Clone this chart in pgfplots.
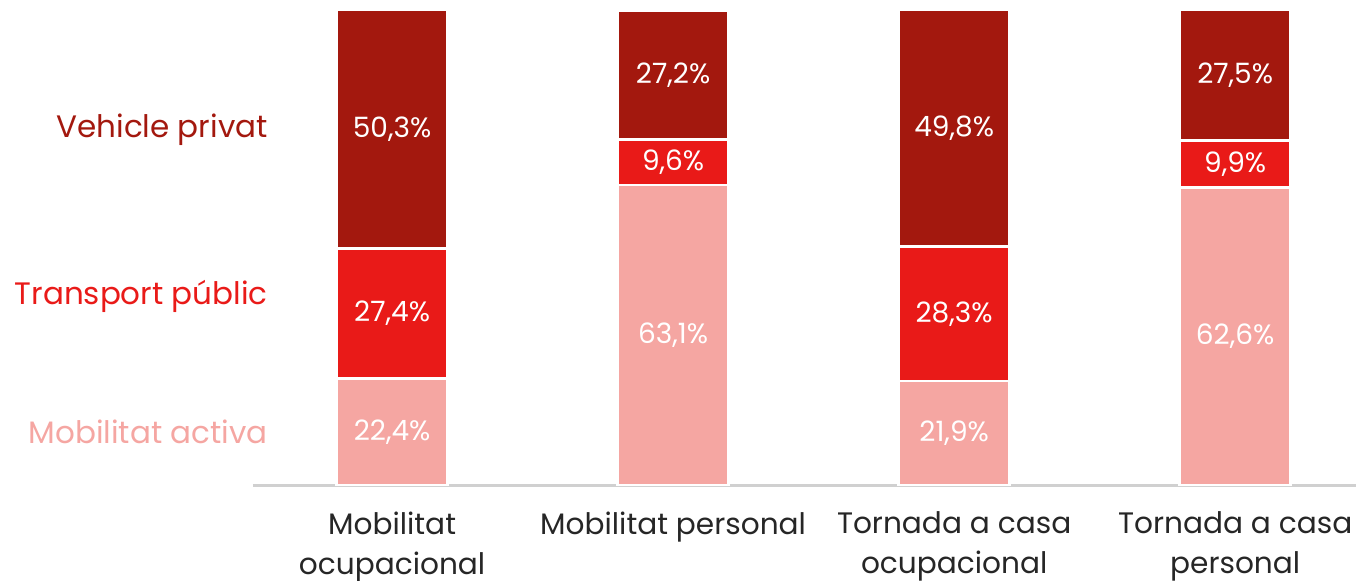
\documentclass[border=0pt]{standalone}
\usepackage{pgfplots}
\pgfplotsset{compat=1.18}
\usepackage{fontspec}
\setmainfont{Poppins}
\definecolor{vehicle}{HTML}{A3180E}
\definecolor{transport}{HTML}{E91A18}
\definecolor{activa}{HTML}{F5A6A2}
\definecolor{axisgray}{HTML}{D0D0D0}
\tikzset{
  val/.style={text=white, font=\fontsize{14}{16}\selectfont, anchor=center},
  leg/.style={anchor=east, inner sep=0pt, font=\fontsize{15.5}{18}\selectfont},
}

\begin{document}
\begin{tikzpicture}
\begin{axis}[
  scale only axis, width=551.5pt, height=237.5pt,
  ybar stacked, bar width=0.395,
  xmin=-0.495, xmax=3.43, ymin=0, ymax=100,
  clip=false,
  axis y line=none, axis x line*=bottom,
  x axis line style={-, axisgray, line width=1.5pt},
  ytick=\empty,
  xtick={0,1,2,3}, major tick length=0pt,
  xticklabels={{Mobilitat\\ocupacional},{Mobilitat personal},{Tornada a casa\\ocupacional},{Tornada a casa\\personal}},
  xticklabel style={align=center, font=\fontsize{14.8}{20}\selectfont, text=black!85, yshift=-10pt},
]
\addplot[fill=activa, draw=white, line width=1.2pt]    coordinates {(0,22.4) (1,63.1) (2,21.9) (3,62.6)};
\addplot[fill=transport, draw=white, line width=1.2pt] coordinates {(0,27.4) (1,9.6)  (2,28.3) (3,9.9)};
\addplot[fill=vehicle, draw=white, line width=1.2pt]   coordinates {(0,50.3) (1,27.2) (2,49.8) (3,27.5)};

% segment middles, labelled after the axis so they sit on top of the bars
\coordinate (a1) at (axis cs:0,11.2);
\coordinate (b1) at (axis cs:0,36.1);
\coordinate (c1) at (axis cs:0,74.95);
\coordinate (a2) at (axis cs:1,31.55);
\coordinate (b2) at (axis cs:1,67.9);
\coordinate (c2) at (axis cs:1,86.3);
\coordinate (a3) at (axis cs:2,10.95);
\coordinate (b3) at (axis cs:2,36.05);
\coordinate (c3) at (axis cs:2,75.1);
\coordinate (a4) at (axis cs:3,31.3);
\coordinate (b4) at (axis cs:3,67.55);
\coordinate (c4) at (axis cs:3,86.25);

\node[leg, text=vehicle]   at (axis cs:-0.441,74.7) {Vehicle privat};
\node[leg, text=transport] at (axis cs:-0.441,39.6) {Transport públic};
\node[leg, text=activa]    at (axis cs:-0.441,11.2) {Mobilitat activa};
\end{axis}
\node[val] at (a1) {22,4\%};
\node[val] at (b1) {27,4\%};
\node[val] at (c1) {50,3\%};
\node[val] at (a2) {63,1\%};
\node[val] at (b2) {9,6\%};
\node[val] at (c2) {27,2\%};
\node[val] at (a3) {21,9\%};
\node[val] at (b3) {28,3\%};
\node[val] at (c3) {49,8\%};
\node[val] at (a4) {62,6\%};
\node[val] at (b4) {9,9\%};
\node[val] at (c4) {27,5\%};
\pgfresetboundingbox
\path[use as bounding box] ([shift={(-126.5pt,-47.5pt)}]current axis.south west) rectangle ([shift={(0pt,5pt)}]current axis.north east);
\end{tikzpicture}
\end{document}
